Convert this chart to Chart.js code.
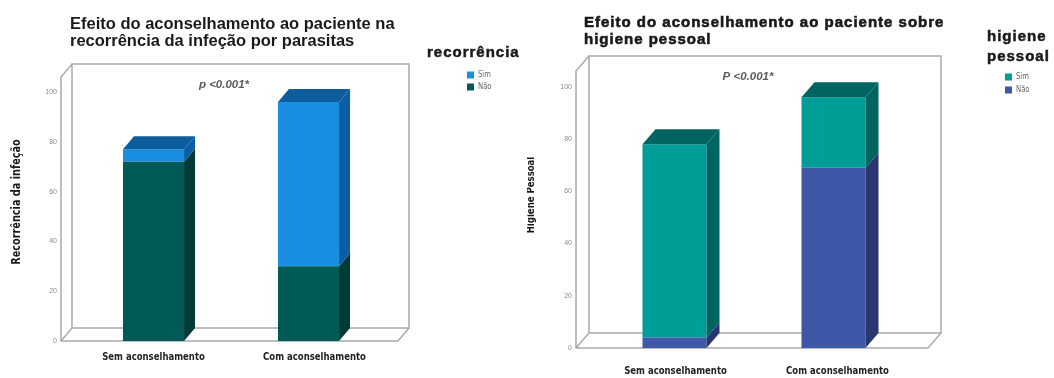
<!DOCTYPE html>
<html>
<head>
<meta charset="utf-8">
<script src="https://cdn.jsdelivr.net/npm/chart.js@4.4.1/dist/chart.umd.min.js"></script>
<style>
  html, body { margin: 0; padding: 0; background: #fff; }
  #wrap { position: relative; width: 1054px; height: 378px; overflow: hidden; }
  .panel { position: absolute; top: 0; width: 527px; height: 378px; }
</style>
</head>
<body>
<div id="wrap">
  <div class="panel" style="left:0"><canvas id="recChart" width="527" height="378"></canvas></div>
  <div class="panel" style="left:527px"><canvas id="higChart" width="527" height="378"></canvas></div>
</div>
<script>
const categories = ['Sem aconselhamento', 'Com aconselhamento'];
const yTicks = [0, 20, 40, 60, 80, 100];

// recorrência da infeção
const recorrenciaNao = [72, 30];
const recorrenciaSim = [5, 66];

// higiene pessoal
const higieneNao = [4, 69];
const higieneSim = [74, 27];

const NARROW = "'DejaVu Sans Condensed', 'Liberation Sans Narrow', sans-serif";
const SANS = "'Liberation Sans', Arial, sans-serif";

// text squeezed horizontally, for the condensed axis labels
function narrowText(ctx, str, x, y, sx) {
  ctx.save();
  ctx.translate(x, y);
  ctx.scale(sx, 1);
  ctx.fillText(str, 0, 0);
  ctx.restore();
}

// heavy title text: fill plus a thin stroke, with letter spacing
function heavyText(ctx, str, x, y, spacing, stroke) {
  ctx.save();
  ctx.letterSpacing = spacing + 'px';
  ctx.fillText(str, x, y);
  if (stroke) {
    ctx.lineWidth = stroke;
    ctx.strokeStyle = ctx.fillStyle;
    ctx.strokeText(str, x, y);
  }
  ctx.restore();
}

// draws the 3d box behind the bars, bar sides/tops, and the free text
function box3d(cfg) {
  return {
    id: 'box3d',
    beforeDatasetsDraw(chart) {
      const a = chart.chartArea, ctx = chart.ctx;
      const fl = a.left - cfg.padL, fr = a.right + cfg.padR, ft = a.top, fb = a.bottom;
      const bl = fl + cfg.dx, br = fr + cfg.dx, bt = ft - cfg.dy, bb = fb - cfg.dy;
      ctx.save();
      ctx.strokeStyle = '#ababab';
      ctx.lineWidth = 1.5;
      ctx.beginPath();
      ctx.rect(bl, bt, br - bl, bb - bt);
      ctx.moveTo(bl, bt); ctx.lineTo(fl, ft); ctx.lineTo(fl, fb); ctx.lineTo(fr, fb); ctx.lineTo(br, bb);
      ctx.moveTo(fl, fb); ctx.lineTo(bl, bb);
      ctx.stroke();
      ctx.restore();
    },
    afterDatasetsDraw(chart) {
      const ctx = chart.ctx, dx = cfg.dx, dy = cfg.dy;
      const sets = chart.data.datasets;
      ctx.save();
      sets.forEach((ds, i) => {
        chart.getDatasetMeta(i).data.forEach(bar => {
          const p = bar.getProps(['x', 'y', 'base', 'width'], true);
          const r = p.x + p.width / 2;
          ctx.fillStyle = ds.sideColor;
          ctx.beginPath();
          ctx.moveTo(r, p.base); ctx.lineTo(r, p.y); ctx.lineTo(r + dx, p.y - dy); ctx.lineTo(r + dx, p.base - dy);
          ctx.closePath();
          ctx.fill();
        });
      });
      // top face only on the last (upper) segment of each stack
      const last = sets.length - 1;
      chart.getDatasetMeta(last).data.forEach(bar => {
        const p = bar.getProps(['x', 'y', 'width'], true);
        const l = p.x - p.width / 2, r = p.x + p.width / 2;
        ctx.fillStyle = sets[last].topColor;
        ctx.beginPath();
        ctx.moveTo(l, p.y); ctx.lineTo(l + dx, p.y - dy); ctx.lineTo(r + dx, p.y - dy); ctx.lineTo(r, p.y);
        ctx.closePath();
        ctx.fill();
      });
      ctx.restore();
    },
    afterDraw(chart) {
      const ctx = chart.ctx, t = cfg.text;
      const xs = chart.scales.x, ys = chart.scales.y;
      ctx.save();
      ctx.fillStyle = '#1a1a1a';
      ctx.textAlign = 'left';
      ctx.textBaseline = 'alphabetic';
      ctx.font = t.titleFont;
      t.title.forEach((line, i) => heavyText(ctx, line, t.titleX, t.titleY + i * t.titleGap, t.titleSpacing, t.titleStroke));

      ctx.font = t.legendFont;
      t.legendTitle.forEach((line, i) => heavyText(ctx, line, t.legendX, t.legendY + i * t.legendGap, 1, 0.5));

      ctx.font = '9px ' + NARROW;
      ctx.textBaseline = 'middle';
      t.items.forEach((it, i) => {
        const y = t.itemY + i * t.itemGap;
        ctx.fillStyle = it.color;
        ctx.fillRect(t.swatchX, y - 3.5, 7, 7);
        ctx.fillStyle = '#666';
        narrowText(ctx, it.label, t.swatchX + 11, y, 0.85);
      });

      // category labels under the bars
      ctx.font = 'bold 11px ' + NARROW;
      ctx.fillStyle = '#222';
      ctx.textAlign = 'center';
      categories.forEach((c, i) => narrowText(ctx, c, xs.getPixelForValue(i) + t.catShift[i], t.catY, 0.86));

      // p value between the two bars
      ctx.font = 'italic bold 11.5px ' + SANS;
      ctx.fillStyle = '#5a5a5a';
      ctx.textBaseline = 'alphabetic';
      ctx.fillText(t.pText, (xs.getPixelForValue(0) + xs.getPixelForValue(1)) / 2 + t.pShift, ys.getPixelForValue(t.pValue));

      // rotated y axis title
      ctx.translate(t.yTitleX, t.yTitleY);
      ctx.rotate(-Math.PI / 2);
      ctx.font = t.yTitleFont;
      ctx.fillStyle = '#1a1a1a';
      ctx.textBaseline = 'middle';
      narrowText(ctx, t.yTitle, 0, 0, t.yTitleScale);
      ctx.restore();
    }
  };
}

function makeChart(id, lay, nao, sim, colors, text) {
  return new Chart(document.getElementById(id), {
    type: 'bar',
    data: {
      labels: categories,
      datasets: [
        { label: 'Não', data: nao, backgroundColor: colors.nao, sideColor: colors.naoSide, topColor: colors.naoSide },
        { label: 'Sim', data: sim, backgroundColor: colors.sim, sideColor: colors.simSide, topColor: colors.simTop }
      ]
    },
    options: {
      responsive: false,
      animation: false,
      devicePixelRatio: 1,
      layout: { padding: { top: lay.top, right: 527 - lay.areaR, bottom: 0, left: 0 } },
      datasets: { bar: { barPercentage: lay.barPct, categoryPercentage: 1, borderWidth: 0 } },
      plugins: { legend: { display: false }, title: { display: false }, tooltip: { enabled: false } },
      scales: {
        x: {
          stacked: true,
          grid: { display: false, drawTicks: false },
          border: { display: false },
          ticks: { display: false },
          afterFit: s => { s.height = 378 - lay.bottom; }
        },
        y: {
          stacked: true,
          min: 0,
          max: 106,
          grid: { display: false, drawTicks: false },
          border: { display: false },
          ticks: { padding: lay.yPad, color: '#8c8c8c', font: { family: SANS, size: 7 } },
          afterBuildTicks: s => { s.ticks = yTicks.map(v => ({ value: v })); },
          afterFit: s => { s.width = lay.areaL; }
        }
      }
    },
    plugins: [box3d(Object.assign({}, lay, { text }))]
  });
}

makeChart('recChart',
  { areaL: 76, areaR: 386, top: 77, bottom: 341, padL: 15, padR: 12, dx: 11, dy: 13, barPct: 0.394, yPad: 19 },
  recorrenciaNao, recorrenciaSim,
  { nao: '#005a55', naoSide: '#003b38', sim: '#1a8fe2', simSide: '#0b5ea6', simTop: '#0d5c9c' },
  {
    title: ['Efeito do aconselhamento ao paciente na', 'recorrência da infeção por parasitas'],
    titleFont: 'bold 16.5px ' + SANS, titleSpacing: 0, titleStroke: 0, titleX: 70, titleY: 29, titleGap: 17,
    legendTitle: ['recorrência'], legendFont: 'bold 15px ' + SANS, legendX: 427, legendY: 57, legendGap: 0,
    items: [{ label: 'Sim', color: '#1a8fe2' }, { label: 'Não', color: '#005a55' }],
    swatchX: 467, itemY: 75, itemGap: 12,
    catY: 357, catShift: [0, 6],
    pText: 'p <0.001*', pValue: 101.5, pShift: -7,
    yTitle: 'Recorrência da infeção', yTitleFont: 'bold 12px ' + NARROW, yTitleScale: 0.9, yTitleX: 17, yTitleY: 202
  });

makeChart('higChart',
  { areaL: 68, areaR: 386, top: 71, bottom: 348, padL: 19, padR: 15, dx: 13, dy: 15, barPct: 0.4025, yPad: 23 },
  higieneNao, higieneSim,
  { nao: '#3e57a7', naoSide: '#2a376f', sim: '#009c97', simSide: '#006461', simTop: '#006461' },
  {
    title: ['Efeito do aconselhamento ao paciente sobre', 'higiene pessoal'],
    titleFont: 'bold 15px ' + SANS, titleSpacing: 1, titleStroke: 0.6, titleX: 57, titleY: 27, titleGap: 17,
    legendTitle: ['higiene', 'pessoal'], legendFont: 'bold 15px ' + SANS, legendX: 460, legendY: 41, legendGap: 20,
    items: [{ label: 'Sim', color: '#009c97' }, { label: 'Não', color: '#3e57a7' }],
    swatchX: 478, itemY: 77, itemGap: 13,
    catY: 371, catShift: [1, 4],
    pText: 'P <0.001*', pValue: 102.5, pShift: -6,
    yTitle: 'Higiene Pessoal', yTitleFont: 'bold 10px ' + NARROW, yTitleScale: 0.95, yTitleX: 4, yTitleY: 195
  });
</script>
</body>
</html>
